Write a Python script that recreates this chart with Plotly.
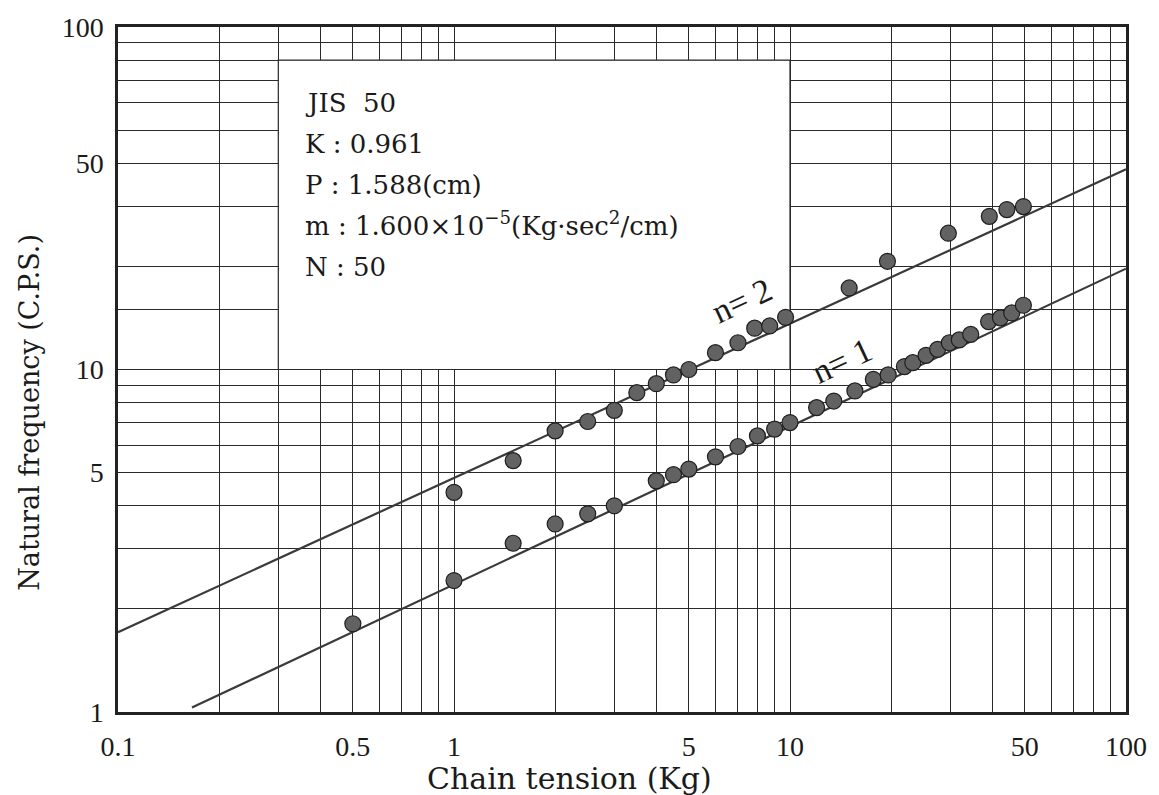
import plotly.graph_objects as go
import math

# ---------------- data ----------------
tension_n1 = [0.5, 1, 1.5, 2, 2.5, 3, 4, 4.5, 5, 6, 7, 8, 9, 10, 12, 13.5, 15.6, 17.7,
              19.6, 21.9, 23.2, 25.4, 27.5, 29.8, 31.9, 34.5, 39.0, 42.3, 45.7, 49.5]
freq_n1 = [1.81, 2.42, 3.11, 3.54, 3.79, 4.0, 4.73, 4.93, 5.12, 5.56, 5.96, 6.40, 6.70, 7.0,
           7.74, 8.09, 8.66, 9.36, 9.64, 10.2, 10.47, 11.0, 11.45, 11.97, 12.2, 12.66, 13.8,
           14.15, 14.63, 15.4]

tension_n2 = [1, 1.5, 2, 2.5, 3, 3.5, 4, 4.5, 5, 6, 7, 7.85, 8.7, 9.7, 15, 19.5, 29.6, 39.2, 44.2, 49.5]
freq_n2 = [4.38, 5.42, 6.62, 7.05, 7.6, 8.56, 9.09, 9.64, 10.0, 11.2, 11.97, 13.2, 13.4, 14.2,
           17.3, 20.7, 25.0, 28.0, 29.3, 29.9]

# theoretical lines (end points)
line_n1_x = [0.166, 100]
line_n1_y = [1.03, 19.7]
line_n2_x = [0.1, 100]
line_n2_y = [1.71, 38.4]

# axis ticks
x_tickvals = [0.1, 0.5, 1, 5, 10, 50, 100]
x_ticktext = ["0.1", "0.5", "1", "5", "10", "50", "100"]
x_minor = [0.2, 0.3, 0.4, 0.6, 0.7, 0.8, 0.9, 2, 3, 4, 6, 7, 8, 9, 20, 30, 40, 60, 70, 80, 90]
# the reference prints its "50" label on the 40 grid line
y_tickvals = [1, 5, 10, 40, 100]
y_ticktext = ["1", "5", "10", "50", "100"]
y_minor = [2, 3, 4, 6, 7, 8, 9, 15, 20, 30, 50, 60, 70, 80, 90]

# white info box region (data coords)
box_x = [0.3, 0.3, 10, 10, 0.3]
box_y = [10, 80, 80, 10, 10]

info_lines = [
    "JIS  50",
    "K : 0.961",
    "P : 1.588(cm)",
    "m : 1.600×10<sup>−5</sup>(Kg·sec<sup>2</sup>/cm)",
    "N : 50",
]
info_y_px = [101, 142, 183, 223, 266]

# ---------------- figure ----------------
W, H = 1159, 795
L, R, T, B = 118, 22, 25, 83
plot_w = W - L - R
plot_h = H - T - B

GRID = "#2a2a2a"
SERIF_TICK = "Liberation Serif"
SERIF = "DejaVu Serif"

fig = go.Figure()

fig.add_trace(go.Scatter(x=box_x, y=box_y, mode="lines", fill="toself",
                         fillcolor="white", line=dict(color=GRID, width=1.2),
                         hoverinfo="skip", showlegend=False))

for lx, ly in [(line_n1_x, line_n1_y), (line_n2_x, line_n2_y)]:
    fig.add_trace(go.Scatter(x=lx, y=ly, mode="lines",
                             line=dict(color="#3a3a3a", width=2.2),
                             showlegend=False))

for tx, fy in [(tension_n1, freq_n1), (tension_n2, freq_n2)]:
    fig.add_trace(go.Scatter(x=tx, y=fy, mode="markers",
                             marker=dict(size=16, color="#626262",
                                         line=dict(color="#1e1e1e", width=1.2)),
                             showlegend=False))

fig.update_xaxes(type="log", range=[-1, 2], tickmode="array",
                 tickvals=x_tickvals, ticktext=x_ticktext,
                 showgrid=True, gridcolor=GRID, gridwidth=1.2,
                 minor=dict(tickvals=x_minor, showgrid=True, gridcolor=GRID, gridwidth=1.2, ticks=""),
                 showline=True, mirror=True, linecolor="#222", linewidth=2.5,
                 ticks="", zeroline=False,
                 tickfont=dict(family=SERIF_TICK, size=28, color="#1a1a1a"),
                 ticklabelstandoff=8)
fig.update_yaxes(type="log", range=[0, 2], tickmode="array",
                 tickvals=y_tickvals, ticktext=y_ticktext,
                 showgrid=True, gridcolor=GRID, gridwidth=1.2,
                 minor=dict(tickvals=y_minor, showgrid=True, gridcolor=GRID, gridwidth=1.2, ticks=""),
                 showline=True, mirror=True, linecolor="#222", linewidth=2.5,
                 ticks="", zeroline=False,
                 tickfont=dict(family=SERIF_TICK, size=28, color="#1a1a1a"),
                 ticklabelstandoff=6)

annotations = []
for txt, py in zip(info_lines, info_y_px):
    annotations.append(dict(text=txt, xref="paper", yref="paper",
                            x=(305 - L) / plot_w, y=(T + plot_h - py) / plot_h,
                            xanchor="left", yanchor="middle", showarrow=False,
                            font=dict(family=SERIF, size=26, color="#1a1a1a")))

annotations.append(dict(text="n= 2", x=math.log10(7.2), y=math.log10(15.9),
                        xref="x", yref="y", showarrow=False, textangle=-25,
                        font=dict(family=SERIF_TICK, size=34, color="#1a1a1a")))
annotations.append(dict(text="n= 1", x=math.log10(14.3), y=math.log10(10.6),
                        xref="x", yref="y", showarrow=False, textangle=-25,
                        font=dict(family=SERIF_TICK, size=34, color="#1a1a1a")))

annotations.append(dict(text="Chain tension (Kg)", xref="paper", yref="paper",
                        x=(574 - L) / plot_w, y=(T + plot_h - 779) / plot_h,
                        xanchor="center", yanchor="middle", showarrow=False,
                        font=dict(family=SERIF, size=30, color="#1a1a1a")))
annotations.append(dict(text="Natural frequency (C.P.S.)", xref="paper", yref="paper",
                        x=(29 - L) / plot_w, y=(T + plot_h - 411) / plot_h,
                        xanchor="center", yanchor="middle", showarrow=False, textangle=-90,
                        font=dict(family=SERIF, size=27, color="#1a1a1a")))

fig.update_layout(width=W, height=H, margin=dict(l=L, r=R, t=T, b=B),
                  plot_bgcolor="white", paper_bgcolor="white",
                  annotations=annotations, showlegend=False)

fig.write_html("out.html")
